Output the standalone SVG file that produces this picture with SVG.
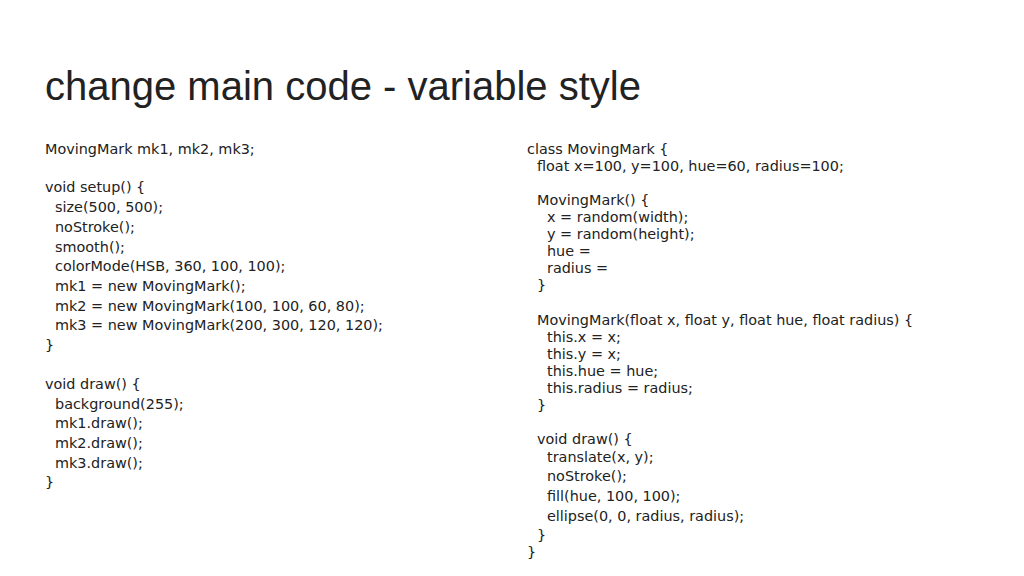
<svg xmlns="http://www.w3.org/2000/svg" width="1024" height="576" viewBox="0 0 1024 576">
<style>
.t{font-family:"Liberation Sans",Arial,sans-serif;font-size:40px;fill:#222}
.c{font-family:"DejaVu Sans",Verdana,sans-serif;font-size:14.4px;fill:#222;white-space:pre}
</style>
<rect width="1024" height="576" fill="#fff"/>
<text class="t" x="45" y="100">change main code - variable style</text>
<g id="left" class="c">
<text x="45" y="154">MovingMark mk1, mk2, mk3;</text>
<text x="45" y="192">void setup() {</text>
<text x="55" y="212">size(500, 500);</text>
<text x="55" y="232">noStroke();</text>
<text x="55" y="252">smooth();</text>
<text x="55" y="271">colorMode(HSB, 360, 100, 100);</text>
<text x="55" y="291">mk1 = new MovingMark();</text>
<text x="55" y="311">mk2 = new MovingMark(100, 100, 60, 80);</text>
<text x="55" y="330">mk3 = new MovingMark(200, 300, 120, 120);</text>
<text x="45" y="350">}</text>
<text x="45" y="389">void draw() {</text>
<text x="55" y="409">background(255);</text>
<text x="55" y="428">mk1.draw();</text>
<text x="55" y="448">mk2.draw();</text>
<text x="55" y="468">mk3.draw();</text>
<text x="45" y="487">}</text>
</g>
<g id="right" class="c">
<text x="527" y="154">class MovingMark {</text>
<text x="537" y="171">float x=100, y=100, hue=60, radius=100;</text>
<text x="537" y="205">MovingMark() {</text>
<text x="547" y="222">x = random(width);</text>
<text x="547" y="239">y = random(height);</text>
<text x="547" y="256">hue =</text>
<text x="547" y="273">radius =</text>
<text x="537" y="290">}</text>
<text x="537" y="325">MovingMark(float x, float y, float hue, float radius) {</text>
<text x="547" y="342">this.x = x;</text>
<text x="547" y="359">this.y = x;</text>
<text x="547" y="376">this.hue = hue;</text>
<text x="547" y="393">this.radius = radius;</text>
<text x="537" y="410">}</text>
<text x="537" y="444">void draw() {</text>
<text x="547" y="462">translate(x, y);</text>
<text x="547" y="481">noStroke();</text>
<text x="547" y="501">fill(hue, 100, 100);</text>
<text x="547" y="521">ellipse(0, 0, radius, radius);</text>
<text x="537" y="540">}</text>
<text x="527" y="557">}</text>
</g>
</svg>
